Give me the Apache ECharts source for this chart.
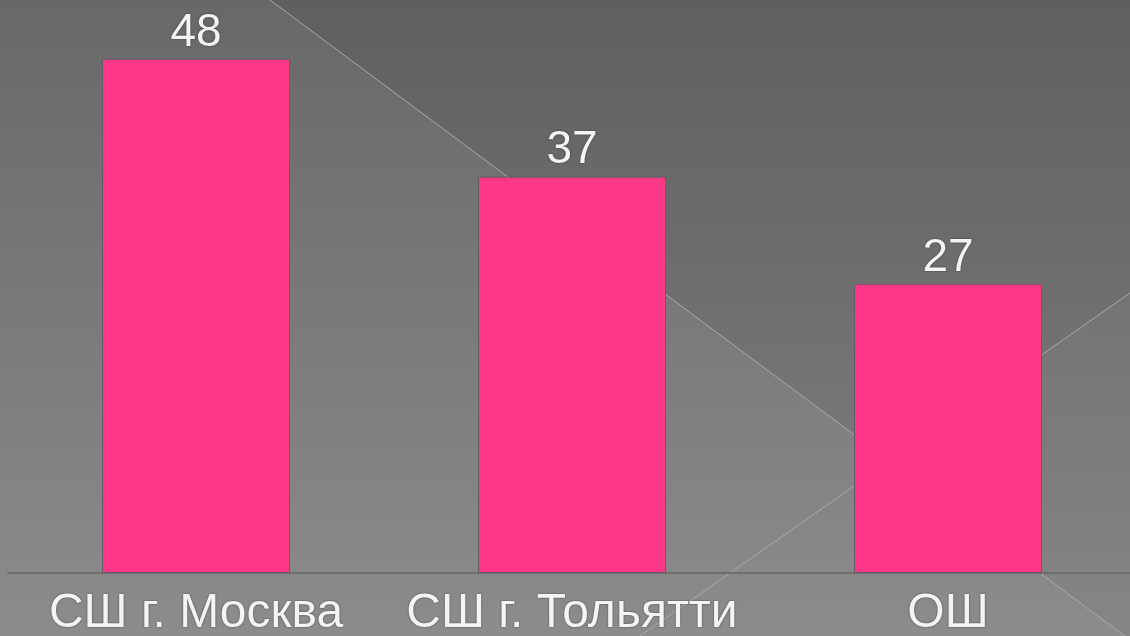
<!DOCTYPE html>
<html>
<head>
<meta charset="utf-8">
<script src="https://cdn.jsdelivr.net/npm/echarts@6/dist/echarts.min.js"></script>
<style>
  html, body { margin: 0; padding: 0; background: #777; }
  #chart { width: 1130px; height: 636px; }
</style>
</head>
<body>
<div id="chart"></div>
<script>
// Schools and their scores
const categories = ['СШ г. Москва', 'СШ г. Тольятти', 'ОШ'];
const values = [48, 37, 27];

const W = 1130, H = 636;
const FONT = '"Liberation Sans", Arial, sans-serif';

const textShadow = {
  textShadowColor: 'rgba(0,0,0,0.55)',
  textShadowBlur: 2,
  textShadowOffsetX: 0,
  textShadowOffsetY: 0
};

// Decorative backdrop: vertical grey gradient split by two crossing thin lines
const backdrop = [
  {
    type: 'rect', silent: true, z: -100,
    shape: { x: 0, y: 0, width: W, height: H },
    style: {
      fill: new echarts.graphic.LinearGradient(0, 0, 0, 1, [
        { offset: 0, color: '#686868' },
        { offset: 1, color: '#8c8c8c' }
      ])
    }
  },
  {
    type: 'polygon', silent: true, z: -99,
    shape: { points: [[270, 0], [W, 0], [W, 293], [890, 461]] },
    style: { fill: 'rgba(0,0,0,0.08)' }
  },
  {
    type: 'polygon', silent: true, z: -99,
    shape: { points: [[W, 293], [890, 461], [W, 640]] },
    style: { fill: 'rgba(0,0,0,0.04)' }
  },
  {
    type: 'line', silent: true, z: -98,
    shape: { x1: 270, y1: 0, x2: W, y2: 640 },
    style: { stroke: '#a9a9a9', lineWidth: 1 }
  },
  {
    type: 'line', silent: true, z: -98,
    shape: { x1: 640, y1: 636, x2: W, y2: 293 },
    style: { stroke: '#a9a9a9', lineWidth: 1 }
  }
];

const chart = echarts.init(document.getElementById('chart'), null, { renderer: 'canvas' });

chart.setOption({
  animation: false,
  backgroundColor: 'transparent',
  graphic: { elements: backdrop },
  grid: {
    left: 8, width: 1128, top: 37.5, height: 535.5,
    containLabel: false,
    outerBoundsMode: 'none'
  },
  xAxis: {
    type: 'category',
    data: categories,
    axisLine: { show: true, lineStyle: { color: '#6e6e6e', width: 2 } },
    axisTick: { show: false },
    axisLabel: {
      interval: 0,
      color: '#f4f4f4',
      fontFamily: FONT,
      fontSize: 48,
      margin: 17,
      ...textShadow
    }
  },
  yAxis: {
    type: 'value',
    min: 0,
    max: 50,
    show: false,
    splitLine: { show: false }
  },
  series: [{
    type: 'bar',
    data: values,
    barWidth: '50%',
    itemStyle: {
      color: '#fe3889',
      borderColor: '#6a5a62',
      borderWidth: 1
    },
    label: {
      show: true,
      position: 'top',
      distance: 3,
      color: '#f4f4f4',
      fontFamily: FONT,
      fontSize: 46,
      ...textShadow
    }
  }]
});
</script>
</body>
</html>
